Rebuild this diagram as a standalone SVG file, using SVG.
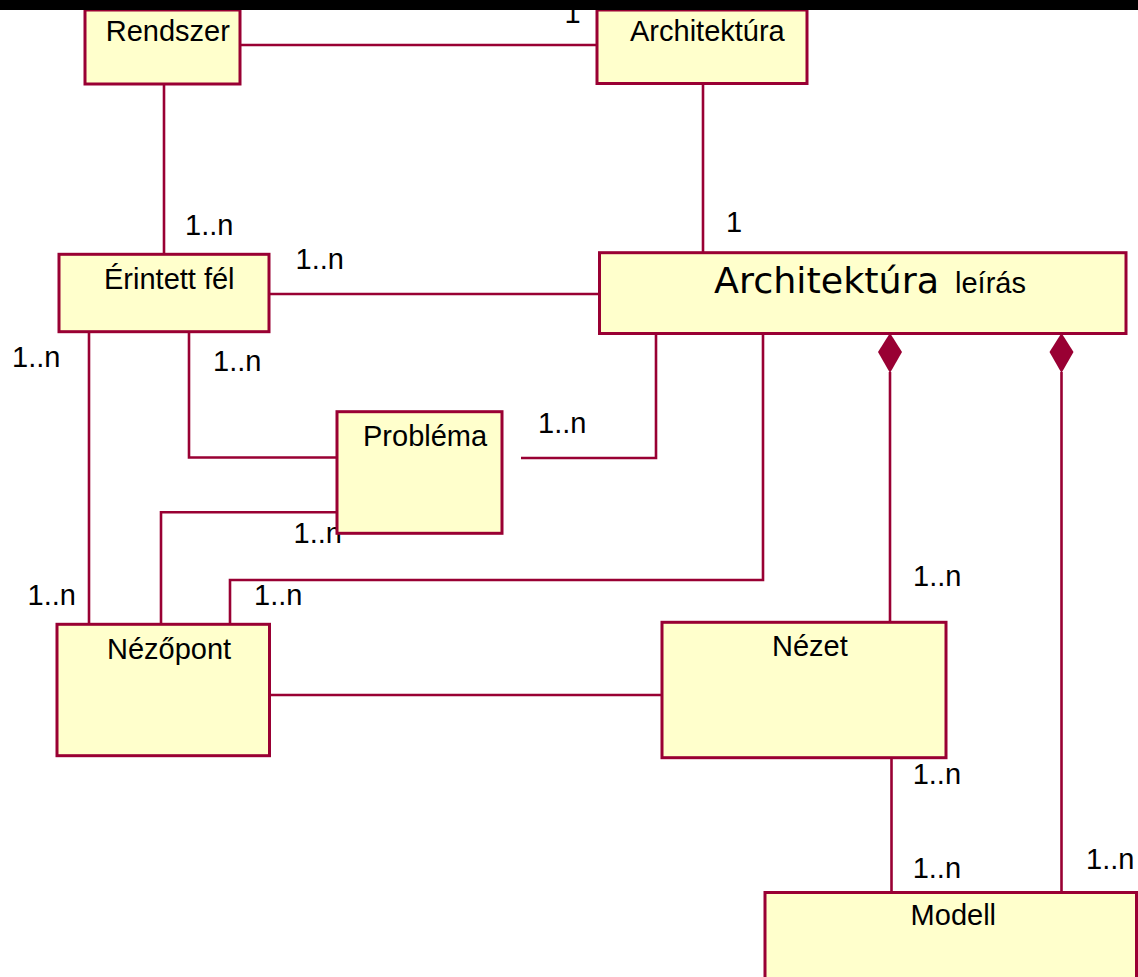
<svg xmlns="http://www.w3.org/2000/svg" width="1138" height="977" viewBox="0 0 1138 977">
<style>
.box{fill:#FFFFCC;stroke:#990033;stroke-width:3}
.ln{fill:none;stroke:#990033;stroke-width:2.6}
.dm{fill:#990033;stroke:none}
text{font-family:"Liberation Sans",Arial,sans-serif;font-size:29px;fill:#000}
.cs{font-family:"Comic Sans MS","DejaVu Sans",sans-serif;font-size:35px}
</style>
<rect x="0" y="0" width="1138" height="977" fill="#fff"/>
<g id="connectors">
<polyline class="ln" points="240,45 597,45"/>
<polyline class="ln" points="164,84 164,254"/>
<polyline class="ln" points="703,84 703,253"/>
<polyline class="ln" points="269,294 600,294"/>
<polyline class="ln" points="89,332 89,625"/>
<polyline class="ln" points="189,332 189,457.5 337,457.5"/>
<polyline class="ln" points="521,458 656,458 656,334"/>
<polyline class="ln" points="161,625 161,512.3 357,512.3"/>
<polyline class="ln" points="230,625 230,580 763,580 763,334"/>
<polyline class="ln" points="269,695 662,695"/>
<polyline class="ln" points="890,372 890,622"/>
<polyline class="ln" points="891.5,758 891.5,893"/>
<polyline class="ln" points="1061.5,372 1061.5,893"/>
<polygon class="dm" points="890,333 902,352 890,373 878,352"/>
<polygon class="dm" points="1061.5,333 1073.5,352 1061.5,373 1049.5,352"/>
<text x="564.6" y="23">1</text>
<text x="185" y="235">1..n</text>
<text x="295.5" y="269">1..n</text>
<text x="726" y="232.3">1</text>
<text x="12" y="367.3">1..n</text>
<text x="213" y="370.7">1..n</text>
<text x="538" y="433.3">1..n</text>
<text x="293.6" y="543.3">1..n</text>
<text x="27.6" y="605">1..n</text>
<text x="254" y="605">1..n</text>
<text x="913" y="586">1..n</text>
<text x="912.7" y="784.3">1..n</text>
<text x="912.7" y="878.3">1..n</text>
<text x="1086" y="869.3">1..n</text>
</g>
<g id="rendszer">
<rect class="box" x="85" y="10" width="155" height="74"/>
<text x="105.7" y="40.7">Rendszer</text>
</g>
<g id="architektura">
<rect class="box" x="597" y="10" width="210" height="73.5"/>
<text x="630" y="40.7">Architektúra</text>
</g>
<g id="erintett-fel">
<rect class="box" x="59" y="254.3" width="210" height="77.4"/>
<text x="104" y="289.3">Érintett fél</text>
</g>
<g id="architektura-leiras">
<rect class="box" x="599.5" y="252.7" width="526.5" height="80.8"/>
<text class="cs" x="714" y="292.7" textLength="225" lengthAdjust="spacingAndGlyphs">Architektúra</text>
<text x="955" y="292.7">leírás</text>
</g>
<g id="problema">
<rect class="box" x="337" y="411.7" width="165" height="121.6"/>
<text x="363" y="445.7">Probléma</text>
</g>
<g id="nezopont">
<rect class="box" x="57" y="624.3" width="212.5" height="131.4"/>
<text x="107" y="659.3">Nézőpont</text>
</g>
<g id="nezet">
<rect class="box" x="662" y="622.3" width="284" height="135.4"/>
<text x="772" y="655.7">Nézet</text>
</g>
<g id="modell">
<rect class="box" x="765" y="892.5" width="371.5" height="100"/>
<text x="910.6" y="925">Modell</text>
</g>
<rect x="0" y="0" width="1138" height="10" fill="#000"/>
</svg>
